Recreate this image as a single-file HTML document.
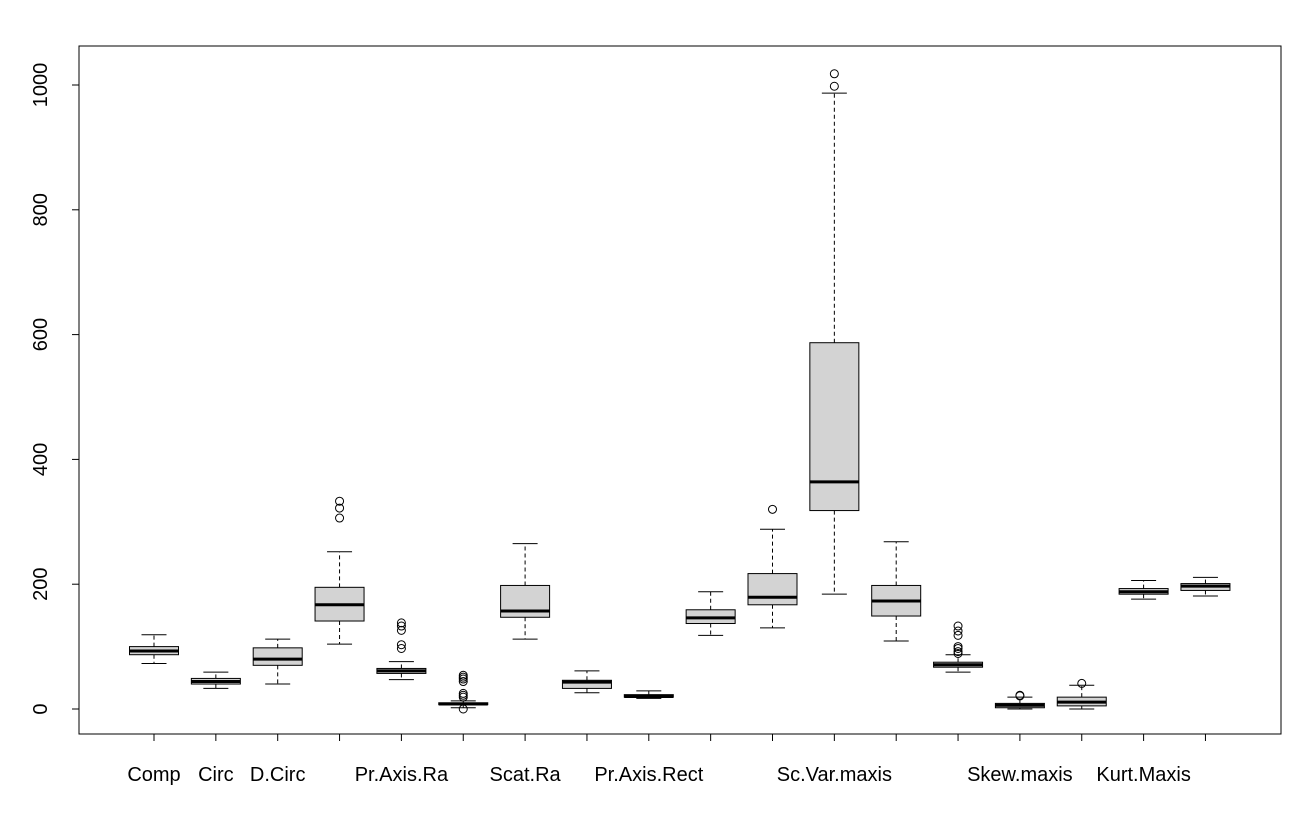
<!DOCTYPE html>
<html><head><meta charset="utf-8"><style>
html,body{margin:0;padding:0;background:#fff;}
svg{display:block;font-family:"Liberation Sans",Arial,sans-serif;}
</style></head><body>
<svg id="chart" width="1307" height="817" viewBox="0 0 1307 817"></svg>
<script>
const categories=["Comp","Circ","D.Circ","Rad.Ra","Pr.Axis.Ra","Max.L.Ra","Scat.Ra","Elong","Pr.Axis.Rect","Max.L.Rect","Sc.Var","Sc.Var.maxis","Ra.Gyr","Ra.Gyr.1","Skew.maxis","Skew.1","Kurt.Maxis","Hollows"];
const shownLabels=[0,1,2,4,6,8,11,14,16];
const whiskLo=[73,33,40,104,47,2,112,26,17,118,130,184,109,59,0,0,176,181];
const q1=[87,40,70,141,57,7,147,33,19,137,167,318,149,67,2,5,184,190];
const med=[93,44,80,167,61,8,157,43,20,146,179,364,173,71,6,11,188,197];
const q3=[100,49,98,195,65,10,198,46,23,159,217,587,198,75,9,19,193,201];
const whiskHi=[119,59,112,252,76,13,265,61,29,188,288,987,268,87,19,38,206,211];
const outliers=[[],[],[],[306,322,333],[97,103,126,133,138],[0,19,22,25,44,48,51,54],[],[],[],[],[320],[998,1018],[],[89,92,97,100,118,125,133],[21,22],[41],[],[]];
const yTicks=[0,200,400,600,800,1000];

const NS="http://www.w3.org/2000/svg";
const svg=document.getElementById('chart');
function el(t,a,p){const e=document.createElementNS(NS,t);for(const k in a)e.setAttribute(k,a[k]);(p||svg).appendChild(e);return e;}
const L=79,R=1281,T=46,B=734;
const y=v=>709-v*0.624;
const x=i=>154+i*61.85;
const hw=24.5;

const frame=el('rect',{x:L,y:T,width:R-L,height:B-T,fill:'none',stroke:'#000','stroke-width':1});



yTicks.forEach(v=>{
  const t=el('line',{x1:L,x2:L-7,y1:y(v),y2:y(v),stroke:'#000'});
  
  
  const tx=el('text',{x:0,y:0,'font-size':20,'text-anchor':'middle',transform:`translate(${L-32},${y(v)}) rotate(-90)`});
  tx.textContent=v;
  
  
});

categories.forEach((c,i)=>{
  const cx=x(i);
  const g=el('g',{});
  
  
  el('line',{x1:cx,x2:cx,y1:y(q3[i]),y2:y(whiskHi[i]),stroke:'#000','stroke-dasharray':'4,3'},g);
  el('line',{x1:cx,x2:cx,y1:y(q1[i]),y2:y(whiskLo[i]),stroke:'#000','stroke-dasharray':'4,3'},g);
  el('line',{x1:cx-12.5,x2:cx+12.5,y1:y(whiskHi[i]),y2:y(whiskHi[i]),stroke:'#000'},g);
  el('line',{x1:cx-12.5,x2:cx+12.5,y1:y(whiskLo[i]),y2:y(whiskLo[i]),stroke:'#000'},g);
  el('rect',{x:cx-hw,y:y(q3[i]),width:hw*2,height:Math.max(1,y(q1[i])-y(q3[i])),fill:'#d3d3d3',stroke:'#000'},g);
  el('line',{x1:cx-hw,x2:cx+hw,y1:y(med[i]),y2:y(med[i]),stroke:'#000','stroke-width':3},g);
  outliers[i].forEach(o=>{
    const p=el('circle',{cx:cx,cy:y(o),r:4,fill:'none',stroke:'#000'},g);
    
    
  });
  const t=el('line',{x1:cx,x2:cx,y1:B,y2:B+7,stroke:'#000'});
  
  
  if(shownLabels.includes(i)){
    const tx=el('text',{x:cx,y:781,'font-size':20,'text-anchor':'middle'});
    tx.textContent=c;
    
    
  }
});
</script>
</body></html>
